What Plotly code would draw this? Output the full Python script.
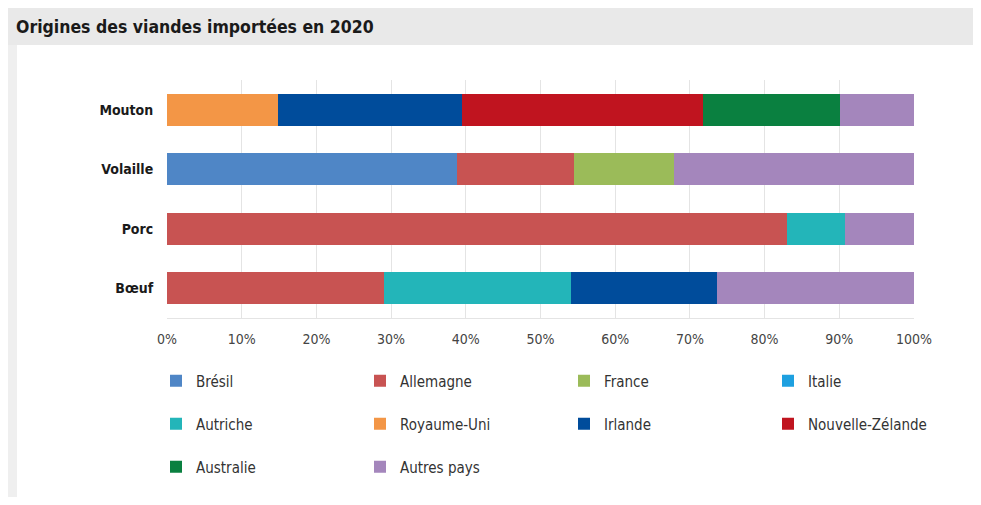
import plotly.graph_objects as go

categories = ["Bœuf", "Porc", "Volaille", "Mouton"]

series_names = ["Brésil", "Allemagne", "France", "Italie", "Autriche",
                "Royaume-Uni", "Irlande", "Nouvelle-Zélande", "Australie", "Autres pays"]

# values in % for [Bœuf, Porc, Volaille, Mouton]
bresil = [0, 0, 38.8, 0]
allemagne = [29.0, 83.0, 15.7, 0]
france = [0, 0, 13.4, 0]
italie = [0, 0, 0, 0]
autriche = [25.1, 7.8, 0, 0]
royaume_uni = [0, 0, 0, 14.9]
irlande = [19.5, 0, 0, 24.6]
nouvelle_zelande = [0, 0, 0, 32.3]
australie = [0, 0, 0, 18.3]
autres = [26.4, 9.2, 32.1, 9.9]

series_values = [bresil, allemagne, france, italie, autriche,
                 royaume_uni, irlande, nouvelle_zelande, australie, autres]

colors = ["#4f86c6", "#c85352", "#9bbb59", "#1ea0e0", "#23b5b9",
          "#f39646", "#004c9b", "#c0141f", "#0a8040", "#a486bc"]

legend_rows = ["legend", "legend", "legend", "legend",
               "legend2", "legend2", "legend2", "legend2",
               "legend3", "legend3"]

tick_vals = [0, 10, 20, 30, 40, 50, 60, 70, 80, 90, 100]
tick_text = [f"{v}%" for v in tick_vals]

FONT = "Liberation Sans Narrow, DejaVu Sans Condensed, Roboto, sans-serif"
# page body has an 8px margin: figure pixel = screen pixel - 8
OFF = 8
W, H = 973, 489


def px(x):
    return (x - OFF) / W


def py(y):
    return 1 - (y - OFF) / H


fig = go.Figure()
for name, vals, col, lg in zip(series_names, series_values, colors, legend_rows):
    fig.add_trace(go.Bar(
        y=categories, x=vals, name=name, orientation="h",
        marker=dict(color=col, line=dict(width=0)),
        width=0.53, legend=lg,
    ))


def leg(ypix):
    return dict(
        orientation="h", x=px(156), xanchor="left", y=py(ypix), yanchor="middle",
        entrywidth=159, entrywidthmode="pixels",
        font=dict(family=FONT, size=15, color="#333333"),
        bgcolor="rgba(0,0,0,0)", borderwidth=0, traceorder="normal",
    )


fig.update_layout(
    width=W, height=H,
    margin=dict(l=0, r=0, t=0, b=0, autoexpand=False),
    paper_bgcolor="white", plot_bgcolor="white",
    barmode="stack", bargap=0.47,
    font=dict(family=FONT, size=14, color="#444444"),
    title=dict(text="<b>Origines des viandes importées en 2020</b>",
               x=px(16), xanchor="left", xref="paper",
               y=py(27), yanchor="middle", yref="paper",
               font=dict(family=FONT, size=17.5, color="#1a1a1a")),
    xaxis=dict(domain=[px(167), px(914)], range=[0, 100],
               tickvals=tick_vals, ticktext=tick_text,
               showgrid=True, gridcolor="#e4e4e4", gridwidth=1,
               zeroline=False, showline=True, linecolor="#e4e4e4",
               ticks="outside", ticklen=8, tickcolor="rgba(0,0,0,0)",
               tickfont=dict(family=FONT, size=14, color="#444444"),
               fixedrange=True),
    yaxis=dict(domain=[py(318), py(80)], range=[-0.5, 3.5],
               showgrid=False, zeroline=False, showline=False,
               ticks="outside", ticklen=10, tickcolor="rgba(0,0,0,0)",
               tickfont=dict(family=FONT, size=14, color="#1a1a1a", weight="bold"),
               fixedrange=True),
    legend=leg(381), legend2=leg(424), legend3=leg(467),
    showlegend=True,
    shapes=[
        # title band
        dict(type="rect", xref="paper", yref="paper", layer="below",
             x0=0, x1=1, y0=py(45), y1=1,
             fillcolor="#e9e9e9", line=dict(width=0)),
        # left frame strip
        dict(type="rect", xref="paper", yref="paper", layer="below",
             x0=0, x1=px(17), y0=0, y1=py(45),
             fillcolor="#efefef", line=dict(width=0)),
    ],
)

fig.write_html("out.html")
